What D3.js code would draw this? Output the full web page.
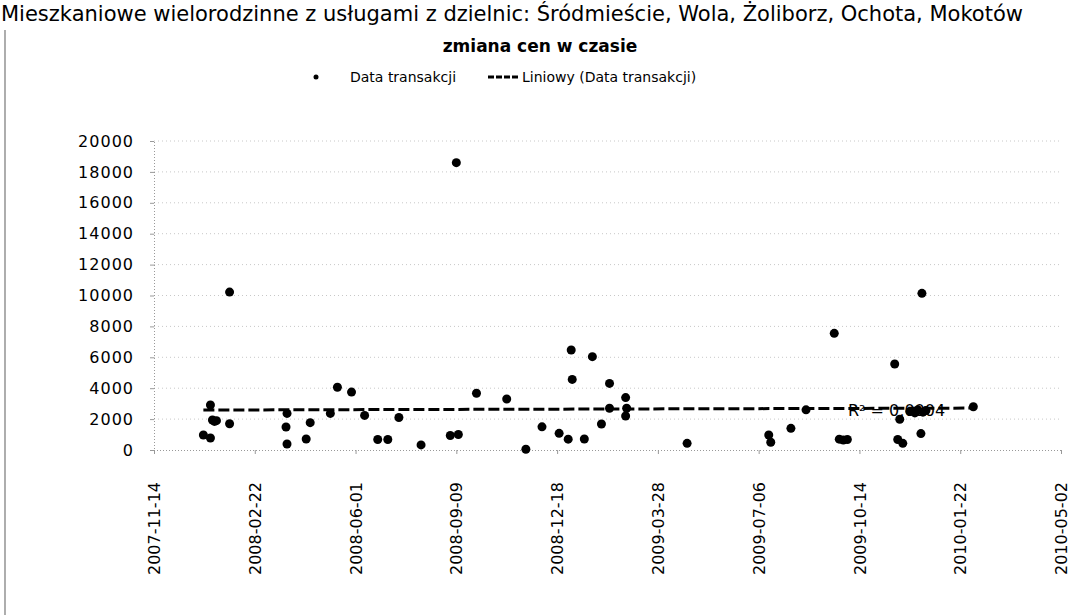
<!DOCTYPE html>
<html>
<head>
<meta charset="utf-8">
<script src="https://cdn.jsdelivr.net/npm/d3@7"></script>
<style>
  body { margin: 0; background: #fff; }
  svg { display: block; }
  text { font-family: 'DejaVu Sans', sans-serif; fill: #000; }
</style>
</head>
<body>
<svg id="chart" width="1072" height="615"></svg>
<script>
'use strict';

// dates of transactions and prices
var transactionDates = [
  '2008-01-02', '2008-01-09', '2008-01-09', '2008-01-11', '2008-01-13', '2008-01-15',
  '2008-01-28', '2008-01-28', '2008-03-24', '2008-03-25', '2008-03-25', '2008-04-13',
  '2008-04-17', '2008-05-07', '2008-05-14', '2008-05-28', '2008-06-10', '2008-06-23',
  '2008-07-03', '2008-07-14', '2008-08-05', '2008-09-03', '2008-09-09', '2008-09-11',
  '2008-09-29', '2008-10-29', '2008-11-17', '2008-12-03', '2008-12-20', '2008-12-29',
  '2009-01-01', '2009-01-02', '2009-01-14', '2009-01-22', '2009-01-31', '2009-02-08',
  '2009-02-08', '2009-02-24', '2009-02-24', '2009-02-25', '2009-04-26', '2009-07-16',
  '2009-07-18', '2009-08-07', '2009-08-22', '2009-09-19', '2009-09-24', '2009-09-28',
  '2009-10-02', '2009-11-18', '2009-11-21', '2009-11-23', '2009-11-26', '2009-12-03',
  '2009-12-08', '2009-12-11', '2009-12-14', '2009-12-15', '2009-12-16', '2009-12-19',
  '2010-02-04'
];
var prices = [
  970, 780, 2910, 1940, 1850, 1900,
  10220, 1700, 1490, 390, 2370, 710,
  1770, 2370, 4060, 3750, 2240, 680,
  680, 2100, 330, 940, 18600, 1000,
  3670, 3300, 50, 1500, 1080, 700,
  6470, 4570, 710, 6040, 1680, 4310,
  2700, 3390, 2200, 2700, 430, 970,
  500, 1400, 2600, 7550, 700, 650,
  680, 5570, 680, 1990, 430, 2500,
  2400, 2600, 1060, 10140, 2450, 2550,
  2800
];

var xTickLabels = ['2007-11-14', '2008-02-22', '2008-06-01', '2008-09-09', '2008-12-18',
  '2009-03-28', '2009-07-06', '2009-10-14', '2010-01-22', '2010-05-02'];
var yTickValues = [0, 2000, 4000, 6000, 8000, 10000, 12000, 14000, 16000, 18000, 20000];

var headerText = 'Mieszkaniowe wielorodzinne z usługami z dzielnic: Śródmieście, Wola, Żoliborz, Ochota, Mokotów';
var chartTitle = 'zmiana cen w czasie';
var seriesName = 'Data transakcji';
var trendName = 'Liniowy (Data transakcji)';
var rSquaredLabel = 'R² = 0,0004';

var parseDate = d3.timeParse('%Y-%m-%d');
var points = transactionDates.map(function(d, i) {
  return { date: parseDate(d), value: prices[i] };
});

var svg = d3.select('#chart');

var plotLeft = 154, plotRight = 1061, plotTop = 141, plotBottom = 450;

var x = d3.scaleTime()
  .domain([parseDate(xTickLabels[0]), parseDate(xTickLabels[xTickLabels.length - 1])])
  .range([plotLeft, plotRight]);
var y = d3.scaleLinear()
  .domain([0, 20000])
  .range([plotBottom, plotTop]);

// header line above the chart
svg.append('text')
  .attr('x', 1)
  .attr('y', 21)
  .attr('font-family', 'Liberation Sans, Arial, sans-serif')
  .attr('font-size', 21)
  .text(headerText);

// chart area border (left edge only visible)
svg.append('line')
  .attr('x1', 5).attr('x2', 5)
  .attr('y1', 30).attr('y2', 615)
  .attr('stroke', '#777')
  .attr('stroke-width', 1.2);

svg.append('text')
  .attr('x', 540)
  .attr('y', 52)
  .attr('text-anchor', 'middle')
  .attr('font-weight', 'bold')
  .attr('font-size', 17)
  .text(chartTitle);

// legend
var legend = svg.append('g').attr('transform', 'translate(0,77)');
legend.append('circle')
  .attr('cx', 316).attr('cy', 0).attr('r', 2.5)
  .attr('fill', '#000');
legend.append('text')
  .attr('x', 350).attr('y', 5)
  .attr('font-size', 14)
  .text(seriesName);
legend.append('line')
  .attr('x1', 488).attr('x2', 519)
  .attr('y1', 0).attr('y2', 0)
  .attr('stroke', '#000')
  .attr('stroke-width', 3)
  .attr('stroke-dasharray', '6,2');
legend.append('text')
  .attr('x', 522).attr('y', 5)
  .attr('font-size', 14)
  .text(trendName);

// gridlines (faint dotted, as in the scan)
svg.append('g')
  .selectAll('line')
  .data(yTickValues.slice(1))
  .enter()
  .append('line')
  .attr('x1', plotLeft).attr('x2', plotRight)
  .attr('y1', function(d) { return y(d); })
  .attr('y2', function(d) { return y(d); })
  .attr('stroke', '#c8c8c8')
  .attr('stroke-width', 1)
  .attr('stroke-dasharray', '1,3');

// y axis
var yAxis = svg.append('g')
  .attr('transform', 'translate(' + plotLeft + ',0)')
  .call(d3.axisLeft(y).tickValues(yTickValues).tickSize(4).tickPadding(16).tickFormat(d3.format('d')));
yAxis.select('.domain').attr('stroke', '#999').attr('stroke-dasharray', '1,2');
yAxis.selectAll('.tick line').attr('stroke', '#999');
yAxis.selectAll('text')
  .attr('font-family', 'DejaVu Sans, sans-serif')
  .attr('font-size', 16)
  .attr('letter-spacing', 1)
  .attr('fill', '#000');

// x axis
var xAxis = svg.append('g')
  .attr('transform', 'translate(0,' + plotBottom + ')')
  .call(d3.axisBottom(x)
    .tickValues(xTickLabels.map(parseDate))
    .tickSize(4)
    .tickFormat(d3.timeFormat('%Y-%m-%d')));
xAxis.select('.domain').attr('stroke', '#999').attr('stroke-dasharray', '1,2');
xAxis.selectAll('.tick line').attr('stroke', '#999');
xAxis.selectAll('text')
  .attr('font-family', 'DejaVu Sans, sans-serif')
  .attr('font-size', 16)
  .attr('fill', '#000')
  .attr('text-anchor', 'end')
  .attr('transform', 'rotate(-90)')
  .attr('x', -32)
  .attr('y', 0)
  .attr('dy', '0.35em');

// linear trendline computed from the points
var xs = points.map(function(p) { return +p.date; });
var ys = points.map(function(p) { return p.value; });
var mx = d3.mean(xs), my = d3.mean(ys);
var sxy = d3.sum(xs, function(v, i) { return (v - mx) * (ys[i] - my); });
var sxx = d3.sum(xs, function(v) { return (v - mx) * (v - mx); });
var slope = sxy / sxx;
var intercept = my - slope * mx;
var xExtent = d3.extent(xs);

svg.append('line')
  .attr('x1', x(xExtent[0]))
  .attr('x2', x(xExtent[1]))
  .attr('y1', y(intercept + slope * xExtent[0]))
  .attr('y2', y(intercept + slope * xExtent[1]))
  .attr('stroke', '#000')
  .attr('stroke-width', 3)
  .attr('stroke-dasharray', '11,4');

// points
svg.append('g')
  .selectAll('circle')
  .data(points)
  .enter()
  .append('circle')
  .attr('cx', function(d) { return x(d.date); })
  .attr('cy', function(d) { return y(d.value); })
  .attr('r', 4.5)
  .attr('fill', '#000');

svg.append('text')
  .attr('x', 848)
  .attr('y', 416)
  .attr('font-size', 16)
  .text(rSquaredLabel);
</script>
</body>
</html>
